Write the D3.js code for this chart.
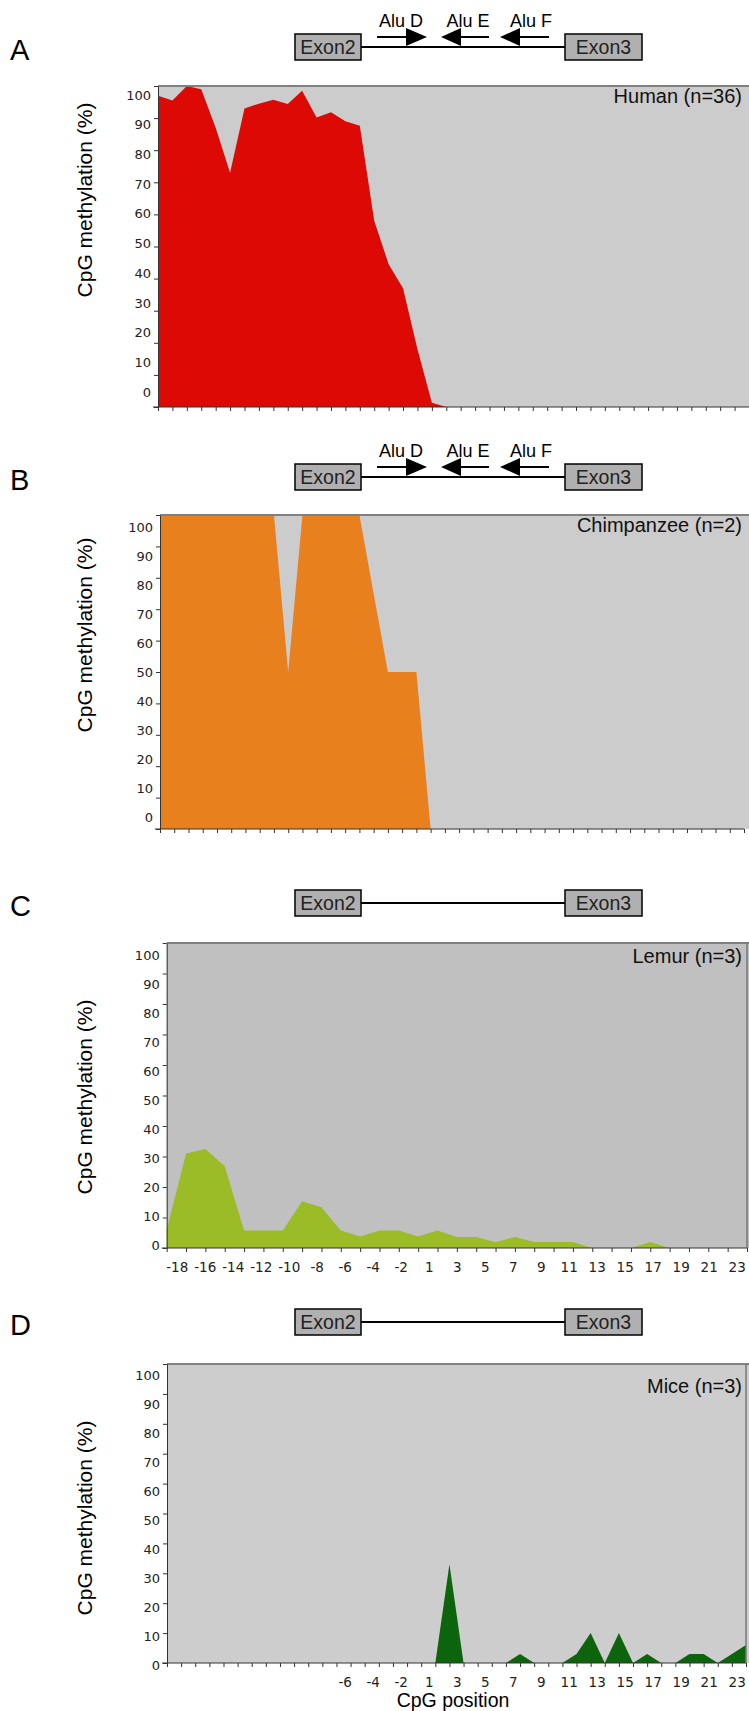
<!DOCTYPE html>
<html>
<head>
<meta charset="utf-8">
<script src="https://cdn.jsdelivr.net/npm/d3@7"></script>
<style>
  body { margin: 0; background: #fff; }
  text { font-family: "Liberation Sans", Arial, sans-serif; }
  .num text, text.num { font-family: "DejaVu Sans", Verdana, sans-serif; }
</style>
</head>
<body>
<svg id="chart" width="749" height="1711"></svg>
<script>
// methylation (%) per CpG
var humanValues = [97, 95.5, 100, 99, 87, 73, 93, 94.5, 95.7, 94.4, 98.5, 90.2, 91.8, 89, 87.6, 58, 44.5, 37, 18, 1.3,
  0, 0, 0, 0, 0, 0, 0, 0, 0, 0, 0, 0, 0, 0, 0, 0, 0, 0, 0, 0, 0, 0];
var chimpValues = [100, 100, 100, 100, 100, 100, 100, 100, 100, 50, 100, 100, 100, 100, 100, 75, 50, 50, 50, 0,
  0, 0, 0, 0, 0, 0, 0, 0, 0, 0, 0, 0, 0, 0, 0, 0, 0, 0, 0, 0, 0, 0];
var lemurValues = [6, 31, 32.5, 26.8, 5.7, 5.7, 5.7, 15.3, 13.4, 5.7, 3.8, 5.7, 5.7, 3.8, 5.7,
  3.6, 3.6, 1.9, 3.6, 2, 2, 2, 0, 0, 0, 2, 0, 0, 0, 0, 0];
var miceValues = [0, 0, 0, 0, 0, 0, 0, 0, 0, 0, 0, 0, 0, 0, 0, 0, 0, 0, 0, 0,
  33, 0, 0, 0, 0, 3, 0, 0, 0, 3, 10, 0, 10, 0, 3, 0, 0, 3, 3, 0, 3, 6];

var yTicks = [0, 10, 20, 30, 40, 50, 60, 70, 80, 90, 100];
var cpgPositions = d3.range(-18, 0).concat(d3.range(1, 24));
var lemurLabels = [-18, -16, -14, -12, -10, -8, -6, -4, -2, 1, 3, 5, 7, 9, 11, 13, 15, 17, 19, 21, 23];
var miceLabels = [-6, -4, -2, 1, 3, 5, 7, 9, 11, 13, 15, 17, 19, 21, 23];

var svg = d3.select("#chart");

var panels = [
  {letter: "A", name: "Human (n=36)", values: humanValues, color: "#dc0905", bg: "#cccccc",
   left: 158, right: 749, top: 86, bottom: 407, lab100: 95, lab0: 392, titleY: 200, nameY: 103,
   geneY: 34, alu: true},
  {letter: "B", name: "Chimpanzee (n=2)", values: chimpValues, color: "#e8801e", bg: "#cccccc",
   left: 160, right: 744, top: 515, bottom: 829, lab100: 527, lab0: 817, titleY: 635, nameY: 532,
   geneY: 464, alu: true},
  {letter: "C", name: "Lemur (n=3)", values: lemurValues, color: "#9bbb27", bg: "#c0c0c0",
   left: 166.7, right: 747, top: 943, bottom: 1248, lab100: 955, lab0: 1245, titleY: 1097, nameY: 963,
   geneY: 890, alu: false, xLabels: lemurLabels, border: true},
  {letter: "D", name: "Mice (n=3)", values: miceValues, color: "#0c650c", bg: "#cdcdcd",
   left: 167, right: 746, top: 1364, bottom: 1663, lab100: 1375, lab0: 1665, titleY: 1518, nameY: 1393,
   geneY: 1309, alu: false, xLabels: miceLabels, border: true, xTitle: "CpG position"}
];

// label row under C and D
var posScale = d3.scalePoint().domain(cpgPositions).range([176.7, 736.7]);

function drawGene(yb, withAlu) {
  var g = svg.append("g");
  g.append("line").attr("x1", 361).attr("x2", 565).attr("y1", yb + 13).attr("y2", yb + 13)
    .attr("stroke", "#000").attr("stroke-width", 2);
  [["Exon2", 295, 66], ["Exon3", 565, 77]].forEach(function(b) {
    g.append("rect").attr("x", b[1]).attr("y", yb).attr("width", b[2]).attr("height", 26)
      .attr("fill", "#b0b0b0").attr("stroke", "#000").attr("stroke-width", 1.5);
    g.append("text").attr("x", b[1] + b[2] / 2).attr("y", yb + 20).attr("text-anchor", "middle")
      .style("font-size", "19.5px").attr("fill", "#222").text(b[0]);
  });
  if (!withAlu) return;
  var sy = yb + 3;
  // [label, shaft start, shaft end, triangle base, apex, label x]
  var alus = [["Alu D", 377, 406, 406, 427, 401], ["Alu E", 489, 461, 461, 441, 468], ["Alu F", 549, 520, 520, 500, 531]];
  alus.forEach(function(a) {
    g.append("line").attr("x1", a[1]).attr("x2", a[2]).attr("y1", sy).attr("y2", sy)
      .attr("stroke", "#000").attr("stroke-width", 2);
    g.append("path").attr("d", "M" + a[3] + "," + (sy - 9) + "L" + a[4] + "," + sy + "L" + a[3] + "," + (sy + 9) + "Z")
      .attr("fill", "#000");
    g.append("text").attr("x", a[5]).attr("y", yb - 7).attr("text-anchor", "middle")
      .style("font-size", "18px").text(a[0]);
  });
}

panels.forEach(function(p) {
  var n = p.values.length;
  var x = d3.scaleLinear().domain([0, n - 1]).range([p.left, p.right]);
  var y = d3.scaleLinear().domain([0, 100]).range([p.bottom, p.top]);
  var yLab = d3.scaleLinear().domain([0, 100]).range([p.lab0, p.lab100]);

  drawGene(p.geneY, p.alu);

  svg.append("text").attr("x", 10).attr("y", p.geneY + 26)
    .style("font-size", "29px").text(p.letter);

  var g = svg.append("g");
  g.append("rect").attr("x", p.left).attr("y", p.top)
    .attr("width", 749 - p.left).attr("height", p.bottom - p.top).attr("fill", p.bg);

  var area = d3.area()
    .x(function(d, i) { return x(i); })
    .y0(y(0))
    .y1(function(d) { return y(d); });
  g.append("path").datum(p.values).attr("d", area).attr("fill", p.color);

  // frame
  g.append("line").attr("x1", p.left).attr("x2", 749).attr("y1", p.top).attr("y2", p.top)
    .attr("stroke", "#808080").attr("stroke-width", 2);
  if (p.border) {
    g.append("line").attr("x1", p.right).attr("x2", p.right).attr("y1", p.top).attr("y2", p.bottom)
      .attr("stroke", "#777").attr("stroke-width", 1.5);
  }

  var xAxis = g.append("g").attr("transform", "translate(0," + p.bottom + ")")
    .call(d3.axisBottom(x).tickValues(d3.range(n)).tickSize(4).tickSizeOuter(0).tickFormat(""));
  xAxis.select(".domain").attr("d", "M" + (p.left - 5) + ",0H" + p.right);
  xAxis.selectAll("line, path").attr("stroke", "#333");

  var yAxis = g.append("g").attr("transform", "translate(" + p.left + ",0)")
    .call(d3.axisLeft(y).tickValues(yTicks).tickSize(4).tickSizeOuter(0).tickFormat(""));
  yAxis.selectAll("line, path").attr("stroke", "#333");

  g.selectAll(".ylab").data(yTicks).enter().append("text")
    .attr("class", "num")
    .attr("x", p.left - 7).attr("y", function(d) { return yLab(d); })
    .attr("dy", "0.36em").attr("text-anchor", "end")
    .style("font-size", "13px").attr("fill", "#222")
    .text(function(d) { return d; });

  g.append("text").attr("transform", "translate(92," + p.titleY + ") rotate(-90)")
    .attr("text-anchor", "middle").style("font-size", "21px").text("CpG methylation (%)");

  g.append("text").attr("x", 742).attr("y", p.nameY).attr("text-anchor", "end")
    .style("font-size", "20px").attr("fill", "#111").text(p.name);

  if (p.xLabels) {
    var lab = g.append("g").attr("class", "num").attr("transform", "translate(0," + (p.bottom + 11) + ")")
      .call(d3.axisBottom(posScale).tickValues(p.xLabels).tickSize(0));
    lab.select(".domain").remove();
    lab.selectAll("text").style("font-size", "13.5px").attr("fill", "#222");
  }
  if (p.xTitle) {
    g.append("text").attr("x", 453).attr("y", 1707).attr("text-anchor", "middle")
      .style("font-size", "19.5px").text(p.xTitle);
  }
});
</script>
</body>
</html>
